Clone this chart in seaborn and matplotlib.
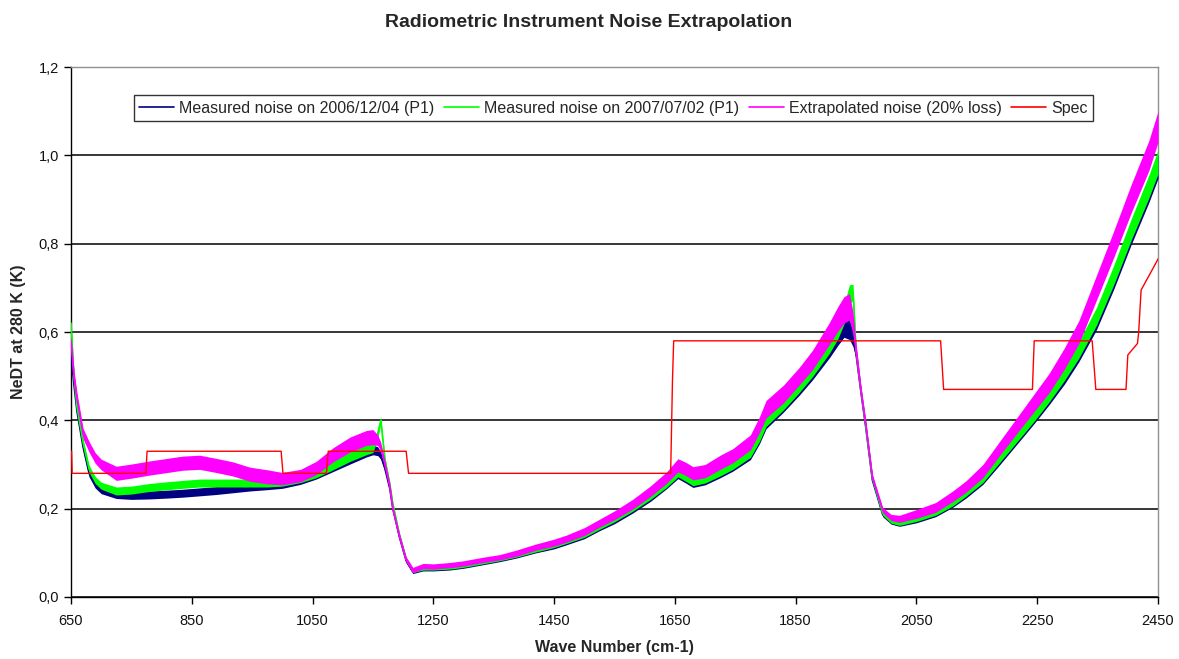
import numpy as np
import pandas as pd
import seaborn as sns
import matplotlib.pyplot as plt
from matplotlib.lines import Line2D

# --- datos ---
wave_number = [650, 655, 660, 670, 680, 690, 700,
               725, 750, 780, 810, 835, 863, 890, 918, 946, 975,
               1000, 1030, 1056, 1084, 1112, 1139, 1150, 1158, 1163, 1170,
               1178, 1183, 1194, 1205, 1216, 1233, 1250, 1277, 1300, 1332,
               1360, 1387, 1420, 1450, 1470, 1500, 1525, 1550, 1580, 1610,
               1636, 1655, 1668, 1680, 1700, 1725, 1746, 1775, 1790, 1801,
               1830, 1856, 1878, 1906, 1920, 1930, 1939, 1945, 1950, 1958,
               1966, 1977, 1994, 2008, 2022, 2050, 2082, 2110, 2132, 2160,
               2187, 2220, 2245, 2270, 2295, 2319, 2348, 2377, 2405, 2435,
               2450]

noise_2006 = [0.55, 0.48, 0.42, 0.34, 0.28, 0.255, 0.242,
              0.232, 0.23, 0.231, 0.233, 0.235, 0.238, 0.241, 0.245, 0.249, 0.252,
              0.255, 0.264, 0.277, 0.294, 0.312, 0.328, 0.333, 0.33, 0.32, 0.29,
              0.245, 0.20, 0.135, 0.082, 0.058, 0.064, 0.064, 0.066, 0.07, 0.078,
              0.085, 0.093, 0.106, 0.115, 0.124, 0.139, 0.157, 0.174, 0.198, 0.226,
              0.255, 0.278, 0.268, 0.258, 0.264, 0.281, 0.296, 0.323, 0.36, 0.395,
              0.433, 0.472, 0.508, 0.56, 0.59, 0.61, 0.605, 0.585, 0.55, 0.465,
              0.385, 0.265, 0.187, 0.17, 0.166, 0.175, 0.19, 0.212, 0.234, 0.266,
              0.31, 0.365, 0.408, 0.452, 0.50, 0.552, 0.625, 0.72, 0.82, 0.92,
              0.975]

noise_2007 = [0.62, 0.50, 0.43, 0.35, 0.29, 0.265, 0.252,
              0.24, 0.242, 0.248, 0.252, 0.255, 0.258, 0.258, 0.258, 0.258, 0.258,
              0.26, 0.268, 0.28, 0.298, 0.318, 0.333, 0.338, 0.37, 0.40, 0.31,
              0.255, 0.21, 0.14, 0.085, 0.06, 0.066, 0.066, 0.068, 0.072, 0.08,
              0.087, 0.095, 0.108, 0.118, 0.127, 0.142, 0.16, 0.178, 0.202, 0.23,
              0.258, 0.282, 0.272, 0.262, 0.268, 0.285, 0.30, 0.328, 0.365, 0.40,
              0.438, 0.478, 0.515, 0.57, 0.605, 0.64, 0.685, 0.69, 0.56, 0.47,
              0.39, 0.27, 0.19, 0.172, 0.168, 0.178, 0.193, 0.215, 0.238, 0.27,
              0.315, 0.37, 0.413, 0.458, 0.508, 0.56, 0.635, 0.73, 0.83, 0.93,
              0.985]

noise_extrap = [0.58, 0.50, 0.45, 0.37, 0.34, 0.315, 0.30,
                0.28, 0.285, 0.292, 0.298, 0.303, 0.305, 0.298, 0.29, 0.278, 0.272,
                0.268, 0.275, 0.292, 0.322, 0.345, 0.36, 0.362, 0.355, 0.34, 0.30,
                0.25, 0.20, 0.137, 0.085, 0.061, 0.07, 0.069, 0.072, 0.076, 0.084,
                0.09, 0.099, 0.113, 0.123, 0.132, 0.148, 0.167, 0.185, 0.21, 0.24,
                0.27, 0.298, 0.29, 0.28, 0.285, 0.305, 0.32, 0.35, 0.39, 0.425,
                0.46, 0.50, 0.537, 0.597, 0.63, 0.65, 0.657, 0.62, 0.559, 0.469,
                0.393, 0.272, 0.197, 0.18, 0.177, 0.188, 0.203, 0.228, 0.25, 0.285,
                0.335, 0.395, 0.44, 0.485, 0.54, 0.60, 0.70, 0.80, 0.90, 1.00,
                1.065]

# ancho (semiamplitud) aproximado de la banda de ruido
spread_extrap = [0.012, 0.012, 0.012, 0.012, 0.012, 0.012, 0.012,
                 0.016, 0.016, 0.016, 0.016, 0.016, 0.016, 0.016, 0.016, 0.016, 0.016,
                 0.014, 0.014, 0.015, 0.016, 0.017, 0.017, 0.017, 0.012, 0.010, 0.008,
                 0.006, 0.006, 0.006, 0.006, 0.006, 0.006, 0.006, 0.006, 0.006, 0.006,
                 0.006, 0.007, 0.007, 0.008, 0.008, 0.009, 0.009, 0.010, 0.011, 0.012,
                 0.013, 0.015, 0.015, 0.015, 0.015, 0.016, 0.016, 0.017, 0.018, 0.020,
                 0.020, 0.020, 0.022, 0.025, 0.028, 0.030, 0.030, 0.025, 0.015, 0.010,
                 0.008, 0.006, 0.006, 0.007, 0.008, 0.010, 0.011, 0.012, 0.013, 0.015,
                 0.016, 0.018, 0.020, 0.022, 0.024, 0.026, 0.028, 0.030, 0.032, 0.034,
                 0.035]

spread_measured = [0.008, 0.008, 0.008, 0.008, 0.008, 0.008, 0.008,
                   0.009, 0.009, 0.009, 0.009, 0.009, 0.009, 0.009, 0.009, 0.009, 0.009,
                   0.009, 0.009, 0.010, 0.010, 0.011, 0.011, 0.011, 0.010, 0.008, 0.006,
                   0.005, 0.005, 0.005, 0.005, 0.005, 0.005, 0.005, 0.005, 0.005, 0.005,
                   0.005, 0.005, 0.006, 0.006, 0.006, 0.007, 0.007, 0.008, 0.008, 0.009,
                   0.010, 0.010, 0.010, 0.010, 0.010, 0.011, 0.011, 0.012, 0.013, 0.014,
                   0.014, 0.015, 0.016, 0.018, 0.020, 0.022, 0.022, 0.018, 0.010, 0.007,
                   0.006, 0.005, 0.005, 0.005, 0.006, 0.007, 0.008, 0.009, 0.010, 0.011,
                   0.012, 0.013, 0.015, 0.016, 0.018, 0.019, 0.020, 0.022, 0.024, 0.026,
                   0.027]

spec_wn = [650, 651, 652, 774, 776, 998, 1001, 1073, 1076, 1205, 1209,
           1643, 1644, 1646, 1648, 2090, 2095, 2242, 2245, 2341, 2347,
           2397, 2400, 2416, 2418, 2422, 2452]
spec_val = [0.33, 0.33, 0.28, 0.28, 0.33, 0.33, 0.28, 0.28, 0.33, 0.33, 0.28,
            0.28, 0.35, 0.49, 0.58, 0.58, 0.47, 0.47, 0.58, 0.58, 0.47,
            0.47, 0.548, 0.574, 0.60, 0.695, 0.77]

series_labels = ["Measured noise on 2006/12/04 (P1)",
                 "Measured noise on 2007/07/02 (P1)",
                 "Extrapolated noise (20% loss)",
                 "Spec"]
series_colors = ["#000080", "#00FF00", "#FF00FF", "#FF0000"]

x_ticks = [650, 850, 1050, 1250, 1450, 1650, 1850, 2050, 2250, 2450]
y_ticks = [0.0, 0.2, 0.4, 0.6, 0.8, 1.0, 1.2]
y_tick_labels = ["0,0", "0,2", "0,4", "0,6", "0,8", "1,0", "1,2"]

# --- estilo ---
sns.set_theme(style="white")
plt.rcParams["font.family"] = ["Liberation Sans", "DejaVu Sans"]

datos = pd.DataFrame({
    "wn": wave_number,
    "n2006": noise_2006,
    "n2007": noise_2007,
    "ext": noise_extrap,
    "sp_ext": spread_extrap,
    "sp_meas": spread_measured,
})
spec = pd.DataFrame({"wn": spec_wn, "val": spec_val})

fig = plt.figure(figsize=(11.79, 6.59), dpi=100)
ax = fig.add_axes([0.0602, 0.0941, 0.922, 0.8042])

# bandas de ruido + linea central
for col, sp, color in [("n2006", "sp_meas", series_colors[0]),
                       ("n2007", "sp_meas", series_colors[1]),
                       ("ext", "sp_ext", series_colors[2])]:
    ax.fill_between(datos["wn"], datos[col] - datos[sp], datos[col] + datos[sp],
                    color=color, linewidth=0, zorder=3)
    sns.lineplot(data=datos, x="wn", y=col, color=color, linewidth=1.2,
                 estimator=None, sort=False, legend=False, ax=ax, zorder=3)

sns.lineplot(data=spec, x="wn", y="val", color=series_colors[3], linewidth=1.0,
             estimator=None, sort=False, legend=False, ax=ax, zorder=4)

# ejes
ax.set_xlim(650, 2450)
ax.set_ylim(0, 1.2)
ax.set_xticks(x_ticks)
ax.set_yticks(y_ticks)
ax.set_yticklabels(y_tick_labels)
ax.tick_params(axis="x", pad=7)
ax.tick_params(axis="both", direction="out", length=5, width=1, color="black",
               labelsize=10.5, bottom=True, left=True)
for lab in ax.get_xticklabels() + ax.get_yticklabels():
    lab.set_color("#111111")

ax.yaxis.grid(True, color="black", linewidth=1.1)
ax.xaxis.grid(False)
ax.set_axisbelow(True)

for side in ["left", "bottom"]:
    ax.spines[side].set_color("black")
    ax.spines[side].set_linewidth(1.0)
for side in ["top", "right"]:
    ax.spines[side].set_color("#909090")
    ax.spines[side].set_linewidth(1.0)

ax.set_xlabel("Wave Number (cm-1)", fontsize=11.5, fontweight="bold")
ax.set_ylabel("NeDT at 280 K (K)", fontsize=11.5, fontweight="bold")
ax.xaxis.set_label_coords(0.5, -0.081)
ax.yaxis.set_label_coords(-0.0414, 0.5)

fig.text(0.499, 0.966, "Radiometric Instrument Noise Extrapolation",
         ha="center", va="center", fontsize=14, fontweight="bold")

handles = [Line2D([0], [0], color=c, linewidth=1.2) for c in series_colors]
leg = ax.legend(handles, series_labels, loc="upper center",
                bbox_to_anchor=(0.499, 0.947), ncol=4, fontsize=11.5,
                frameon=True, fancybox=False, edgecolor="black",
                handlelength=2.2, handletextpad=0.3, columnspacing=0.6,
                borderpad=0.35, borderaxespad=0)
leg.get_frame().set_linewidth(1.0)
leg.get_frame().set_facecolor("white")
leg.set_zorder(5)

plt.savefig("out.png", dpi=100)
plt.close()
